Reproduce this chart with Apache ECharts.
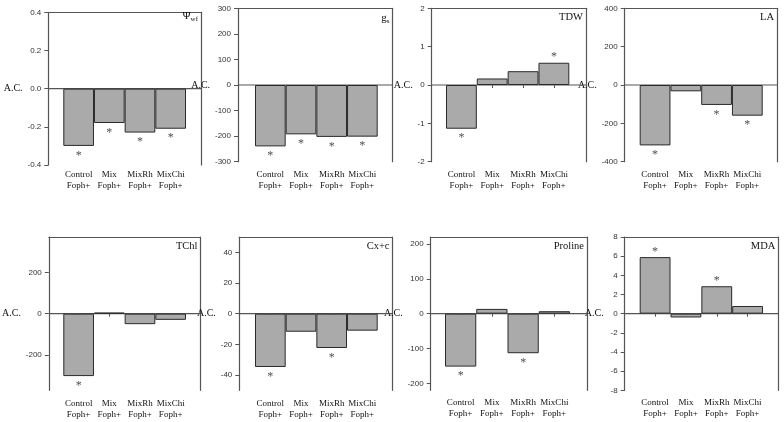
<!DOCTYPE html>
<html><head><meta charset="utf-8">
<script src="https://cdn.jsdelivr.net/npm/echarts@6/dist/echarts.min.js"></script>
<style>html,body{margin:0;padding:0;background:#fff}#c{width:784px;height:422px}</style>
</head><body><div id="c"></div>
<script>
const categories = ['Control\nFoph+','Mix\nFoph+','MixRh\nFoph+','MixChi\nFoph+'];

const psiWf   = [-0.30, -0.18, -0.23, -0.21];
const psiSig  = [1, 1, 1, 1];
const gs      = [-240, -193, -203, -202];
const gsSig   = [1, 1, 1, 1];
const tdw     = [-1.14, 0.17, 0.36, 0.58];
const tdwSig  = [1, 0, 0, 1];
const la      = [-315, -33, -104, -160];
const laSig   = [1, 0, 1, 1];
const tchl    = [-303, 5, -51, -30];
const tchlSig = [1, 0, 0, 0];
const cxc     = [-34.8, -11.8, -22.4, -11.1];
const cxcSig  = [1, 0, 1, 0];
const proline = [-152, 13.6, -113.6, 7];
const prolineSig = [1, 0, 1, 0];
const mda     = [5.9, -0.4, 2.86, 0.8];
const mdaSig  = [1, 0, 1, 0];

const psiTicks = [-0.4, -0.2, 0, 0.2, 0.4];
const gsTicks = [-300, -200, -100, 0, 100, 200, 300];
const tdwTicks = [-2, -1, 0, 1, 2];
const laTicks = [-400, -200, 0, 200, 400];
const tchlTicks = [-200, 0, 200];
const cxcTicks = [-40, -20, 0, 20, 40];
const prolineTicks = [-200, -100, 0, 100, 200];
const mdaTicks = [-8, -6, -4, -2, 0, 2, 4, 6, 8];

const panels = [
  {title:'{m|Ψ}{s|wf}', vals:psiWf, sig:psiSig, ext:0.4, ticks:psiTicks, dec:1},
  {title:'{m|g}{s|s}', vals:gs, sig:gsSig, ext:300, ticks:gsTicks, dec:0},
  {title:'TDW', vals:tdw, sig:tdwSig, ext:2, ticks:tdwTicks, dec:0},
  {title:'LA', vals:la, sig:laSig, ext:400, ticks:laTicks, dec:0},
  {title:'TChl', vals:tchl, sig:tchlSig, ext:372, ticks:tchlTicks, dec:0},
  {title:'Cx+c', vals:cxc, sig:cxcSig, ext:50, ticks:cxcTicks, dec:0},
  {title:'Proline', vals:proline, sig:prolineSig, ext:220, ticks:prolineTicks, dec:0},
  {title:'MDA', vals:mda, sig:mdaSig, ext:8, ticks:mdaTicks, dec:0}
];

// layout: frame left/right/top/bottom, bar band left/right, label margin, name gap, title top
const layout = [
  {l:48.3, r:201,   t:12.3, b:165,   bl:63.3,  br:186,   lm:4, ng:23, tt:10},
  {l:238,  r:392.5, t:8.3,  b:161.7, bl:255,   br:377.7, lm:7, ng:17, tt:12},
  {l:431.7,r:586,   t:8.3,  b:161.7, bl:446,   br:569.3, lm:7, ng:17, tt:12},
  {l:624.7,r:777,   t:8.3,  b:161.7, bl:639.7, br:762.7, lm:7, ng:17, tt:12},
  {l:48.3, r:200.5, t:237,  b:390.3, bl:63.3,  br:186,   lm:8, ng:16, tt:241},
  {l:239.3,r:392.5, t:237,  b:390.3, bl:255,   br:377.7, lm:8, ng:18, tt:241},
  {l:430.7,r:587,   t:237,  b:390.3, bl:445,   br:570,   lm:7, ng:18, tt:241},
  {l:624.7,r:778.3, t:237,  b:390.3, bl:639.7, br:763,   lm:7, ng:21, tt:241}
];

const serif = '"Liberation Serif","Times New Roman",serif';
const sans = '"Liberation Sans",Arial,sans-serif';
const lineCol = '#555';

const option = {animation:false, backgroundColor:'#fff', title:[], grid:[], xAxis:[], yAxis:[], series:[]};

panels.forEach((p, i) => {
  const L = layout[i];
  const fg = option.grid.length;
  option.grid.push({left:L.l, top:L.t, width:L.r-L.l, height:L.b-L.t});
  const bg = option.grid.length;
  option.grid.push({left:L.bl, top:L.t, width:L.br-L.bl, height:L.b-L.t});

  const fx = option.xAxis.length;
  option.xAxis.push({gridIndex:fg, type:'value', min:0, max:1, position:'top',
    axisLine:{show:true, onZero:false, lineStyle:{color:lineCol, width:1.2}},
    axisTick:{show:false}, axisLabel:{show:false}, splitLine:{show:false}});
  const fyL = option.yAxis.length;
  option.yAxis.push({gridIndex:fg, type:'value', min:-p.ext, max:p.ext, position:'left',
    name:'A.C.', nameLocation:'middle', nameRotate:0, nameGap:L.ng,
    nameTextStyle:{fontFamily:serif, fontSize:10, color:'#111', align:'right', verticalAlign:'middle'},
    axisLine:{show:true, onZero:false, lineStyle:{color:lineCol, width:1.2}},
    axisTick:{show:true, length:4, customValues:p.ticks, lineStyle:{color:lineCol}},
    axisLabel:{show:true, margin:7, customValues:p.ticks, fontFamily:sans, fontSize:8, color:'#333',
      formatter: v => Number(v).toFixed(p.dec)},
    splitLine:{show:false}});
  option.yAxis.push({gridIndex:fg, type:'value', min:-p.ext, max:p.ext, position:'right',
    axisLine:{show:true, onZero:false, lineStyle:{color:lineCol, width:1.2}},
    axisTick:{show:false}, axisLabel:{show:false}, splitLine:{show:false}});

  const bx = option.xAxis.length;
  option.xAxis.push({gridIndex:bg, type:'category', data:categories, position:'bottom',
    axisLine:{show:false},
    axisTick:{show:true, alignWithLabel:true, length:3, lineStyle:{color:lineCol}},
    axisLabel:{show:true, interval:0, margin:L.lm, fontFamily:serif, fontSize:9, lineHeight:11, color:'#111'},
    splitLine:{show:false}});
  const by = option.yAxis.length;
  option.yAxis.push({gridIndex:bg, type:'value', min:-p.ext, max:p.ext, show:false,
    axisLine:{onZero:false}, splitLine:{show:false}});

  option.series.push({type:'line', xAxisIndex:fx, yAxisIndex:fyL, data:[[0,0],[1,0]],
    symbol:'none', silent:true, z:1, lineStyle:{color:'#555', width:1.2}});
  option.series.push({type:'bar', xAxisIndex:bx, yAxisIndex:by, data:p.vals, barWidth:'100%',
    barCategoryGap:'0%', z:2, silent:true,
    itemStyle:{color:'#aaaaaa', borderColor:'#2a2a2a', borderWidth:1}});
  option.series.push({type:'scatter', xAxisIndex:bx, yAxisIndex:by, symbolSize:0, z:3, silent:true,
    data:p.vals.map((v, k) => p.sig[k] ? {value:v, label:{offset:[0, v < 0 ? 9.5 : -5.5]}} : '-'),
    label:{show:true, position:'inside', formatter:'*', fontFamily:serif, fontSize:12, color:'#222'}});

  option.title.push({text:p.title, right:784 - L.r + 3, top:L.tt, padding:0,
    textStyle:{fontFamily:serif, fontSize:10.5, fontWeight:'normal', color:'#111',
      rich:{m:{fontFamily:serif, fontSize:11, color:'#111'},
            s:{fontFamily:serif, fontSize:7, color:'#111', verticalAlign:'bottom', padding:[6,0,0,0]}}}});
});

const chart = echarts.init(document.getElementById('c'), null, {renderer:'canvas'});
chart.setOption(option);
</script>
</body></html>
